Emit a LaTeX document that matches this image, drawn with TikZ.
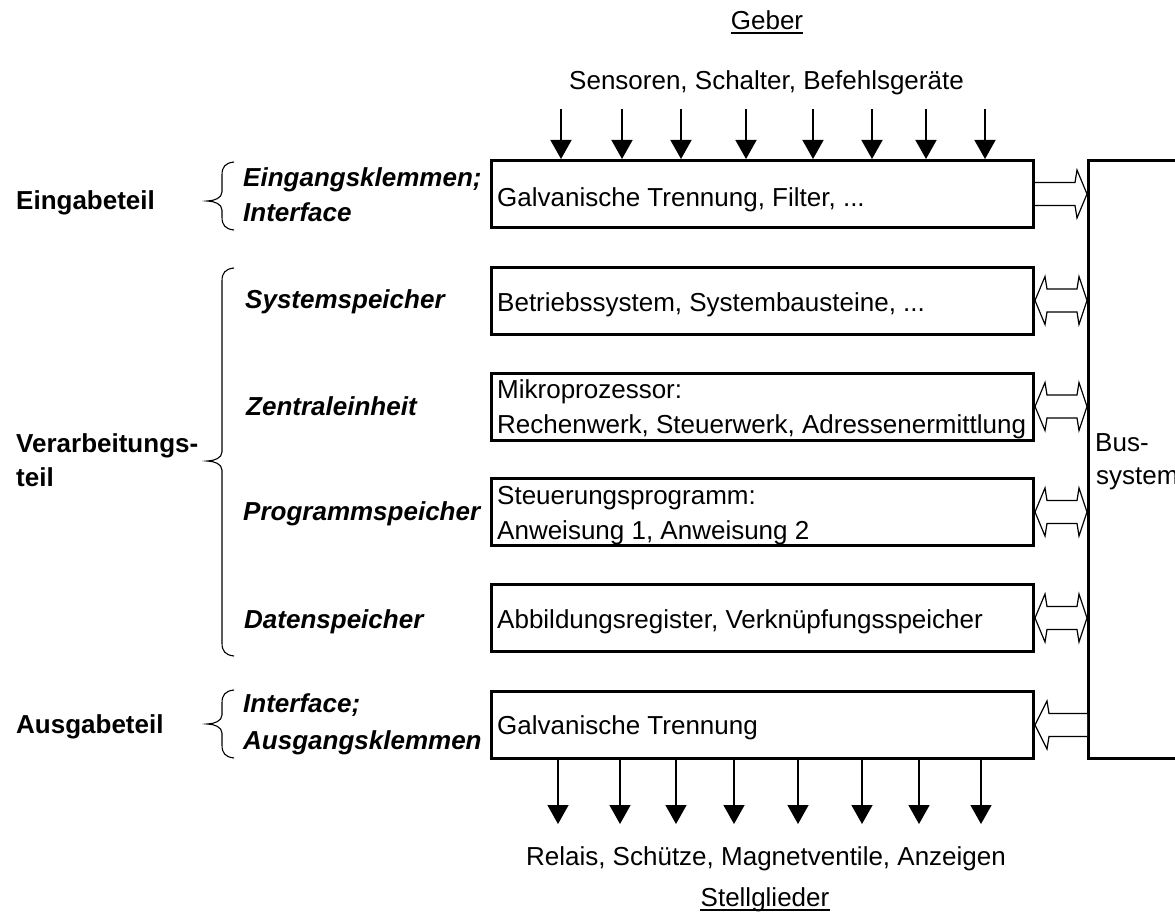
\documentclass[tikz,border=0pt]{standalone}
\usepackage{fontspec}
\setmainfont{Liberation Sans}
\usetikzlibrary{arrows.meta,calc}

% curly brace opening to the right: #1 spine x, #2 top y, #3 tip y, #4 bottom y
\newcommand\groupbrace[4]{%
  \draw[bracestyle] (#1+12,#2) .. controls (#1+3,#2+1) and (#1,#2+5) .. (#1,#2+13)
    -- (#1,#3-9) .. controls (#1,#3-3) and (#1-8,#3) .. (#1-15,#3)
    .. controls (#1-8,#3) and (#1,#3+3) .. (#1,#3+9)
    -- (#1,#4-13) .. controls (#1,#4-5) and (#1+3,#4-1) .. (#1+12,#4);}

% hollow double arrow between a unit and the bus
\newcommand\duplexarrow[1]{%
  \draw[hollow] let \p1=(#1.east), \p2=(bus.west) in
    (\x1,\y1) -- (\x1+10pt,\y1+24pt) -- (\x1+12pt,\y1+11.5pt)
    -- (\x2-10pt,\y1+11.5pt) -- (\x2-8pt,\y1+24pt) -- (\x2,\y1)
    -- (\x2-8pt,\y1-24pt) -- (\x2-10pt,\y1-11.5pt)
    -- (\x1+12pt,\y1-11.5pt) -- (\x1+10pt,\y1-24pt) -- cycle;}

\begin{document}
\begin{tikzpicture}[x=1pt,y=-1pt,
  txt/.style={font=\fontsize{26}{35}\selectfont, inner sep=0pt},
  boxtxt/.style={txt, anchor=base west},
  grp/.style={font=\fontsize{26}{35}\selectfont\bfseries, inner sep=0pt, anchor=base west},
  unit/.style={font=\fontsize{26}{35}\selectfont\bfseries\itshape, inner sep=0pt, anchor=base west},
  box/.style={draw, line width=3pt, minimum width=542pt, minimum height=67pt, inner sep=0pt},
  hollow/.style={draw, line width=1.2pt, fill=white, line join=miter},
  dnarrow/.style={line width=1.5pt, -{Triangle[length=19pt,width=21pt]}},
  bracestyle/.style={line width=1.1pt},
  uline/.style={line width=2pt}
]
\useasboundingbox (0,0) rectangle (1175,915);
\clip (0,0) rectangle (1175,915);

% units of the controller
\node[box] (ein)  at (762.5,194)   {};
\node[box] (sys)  at (762.5,300.5) {};
\node[box] (zen)  at (762.5,406.5) {};
\node[box] (prog) at (762.5,512)   {};
\node[box] (dat)  at (762.5,618)   {};
\node[box] (aus)  at (762.5,725)   {};

% contents of the units
\node[boxtxt] (ein-t)   at (497,206) {Galvanische Trennung, Filter, ...};
\node[boxtxt] (sys-t)   at (497,311) {Betriebssystem, Systembausteine, ...};
\node[boxtxt] (zen-t1)  at (497,398) {Mikroprozessor:};
\node[boxtxt] (zen-t2)  at (497,433) {Rechenwerk, Steuerwerk, Adressenermittlung};
\node[boxtxt] (prog-t1) at (497,504) {Steuerungsprogramm:};
\node[boxtxt] (prog-t2) at (497,539) {Anweisung 1, Anweisung 2};
\node[boxtxt] (dat-t)   at (497,628) {Abbildungsregister, Verknüpfungsspeicher};
\node[boxtxt] (aus-t)   at (497,734) {Galvanische Trennung};

% bus system
\node[draw, line width=3pt, minimum width=150pt, minimum height=598pt,
  anchor=north west] (bus) at (1087,159) {};
\node[txt, anchor=base west] (bus1) at (1095,451) {Bus-};
\node[txt, anchor=base west] (bus2) at (1096,484) {system};

% input unit to bus
\draw[hollow] let \p1=(ein.east), \p2=(bus.west) in
  (\x1,\y1+11.5pt) -- (\x2-12pt,\y1+11.5pt) -- (\x2-10pt,\y1+24pt) -- (\x2,\y1)
  -- (\x2-10pt,\y1-24pt) -- (\x2-12pt,\y1-11.5pt) -- (\x1,\y1-11.5pt);

% processing units and bus
\duplexarrow{sys}
\duplexarrow{zen}
\duplexarrow{prog}
\duplexarrow{dat}

% bus to output unit
\draw[hollow] let \p1=(aus.east), \p2=(bus.west) in
  (\x2,\y1+11.5pt) -- (\x1+14pt,\y1+11.5pt) -- (\x1+12pt,\y1+24pt) -- (\x1,\y1)
  -- (\x1+12pt,\y1-24pt) -- (\x1+14pt,\y1-11.5pt) -- (\x2,\y1-11.5pt);

% signal sources
\node[txt, anchor=base] (geber) at (767,30) {Geber};
\draw[uline] ([yshift=-3pt]geber.base west) -- ([yshift=-3pt]geber.base east);
\node[txt, anchor=base west] (sens) at (569,90) {Sensoren, Schalter, Befehlsgeräte};
\foreach \x [count=\i] in {561,622,681,746,813,872,926,985} {
  \coordinate (src\i) at (\x,109);
  \draw[dnarrow] (src\i) -- (src\i |- ein.north);
}

% actuators
\foreach \x [count=\i] in {558,620,676,734,798,862,919,981} {
  \coordinate (dst\i) at (\x,824);
  \draw[dnarrow] (dst\i |- aus.south) -- (dst\i);
}
\node[txt, anchor=base] (akt) at (766,865) {Relais, Schütze, Magnetventile, Anzeigen};
\node[txt, anchor=base] (stell) at (765,906) {Stellglieder};
\draw[uline] ([yshift=-4pt]stell.base west) -- ([yshift=-4pt]stell.base east);

% group labels
\node[grp] (g1) at (16,209) {Eingabeteil};
\node[grp] (g2a) at (16,452) {Verarbeitungs-};
\node[grp] (g2b) at (16,486) {teil};
\node[grp] (g3) at (16,733) {Ausgabeteil};

% unit labels
\node[unit] (l1a) at (243,186) {Eingangsklemmen;};
\node[unit] (l1b) at (243,221) {Interface};
\node[unit] (l2) at (245,308) {Systemspeicher};
\node[unit] (l3) at (246,415) {Zentraleinheit};
\node[unit] (l4) at (243,520) {Programmspeicher};
\node[unit] (l5) at (244,628) {Datenspeicher};
\node[unit] (l6a) at (243,712) {Interface;};
\node[unit] (l6b) at (243,749) {Ausgangsklemmen};

% braces
\groupbrace{222}{162}{201}{230}
\groupbrace{222}{268}{461}{656}
\groupbrace{222}{690}{724}{758}
\end{tikzpicture}
\end{document}
